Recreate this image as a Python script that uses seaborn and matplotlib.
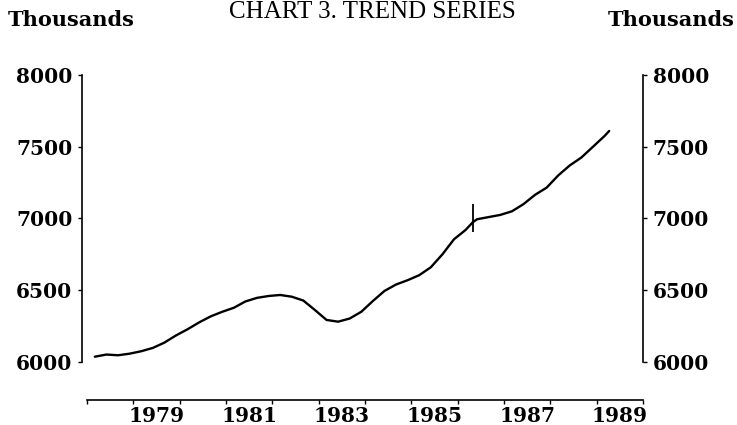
import numpy as np
import pandas as pd
import matplotlib.pyplot as plt
import seaborn as sns

# Trend series (decimal years, thousands)
years = [1978.17, 1978.42, 1978.67, 1978.92, 1979.17, 1979.42, 1979.67, 1979.92,
         1980.17, 1980.42, 1980.67, 1980.92, 1981.17, 1981.42, 1981.67, 1981.92,
         1982.17, 1982.42, 1982.67, 1982.92, 1983.17, 1983.42, 1983.67, 1983.92,
         1984.17, 1984.42, 1984.67, 1984.92, 1985.17, 1985.42, 1985.67, 1985.92,
         1986.17, 1986.33, 1986.42, 1986.67, 1986.92, 1987.17, 1987.42, 1987.67,
         1987.92, 1988.17, 1988.42, 1988.67, 1988.92, 1989.17, 1989.27]
trend = [6037, 6052, 6047, 6058, 6075, 6098, 6135, 6185,
         6228, 6276, 6318, 6350, 6378, 6422, 6447, 6460,
         6467, 6455, 6428, 6362, 6293, 6281, 6303, 6350,
         6425, 6495, 6540, 6570, 6605, 6660, 6750, 6855,
         6920, 6975, 6995, 7010, 7025, 7050, 7100, 7165,
         7215, 7300, 7370, 7425, 7500, 7575, 7610]

# series break marker
break_year = 1986.33
break_lo = 6905
break_hi = 7100

y_ticks = [6000, 6500, 7000, 7500, 8000]
year_ticks = list(range(1978, 1991))
label_years = [1979, 1981, 1983, 1985, 1987, 1989]

df = pd.DataFrame({"year": years, "trend": trend})

sns.set_style("white")
plt.rcParams["font.family"] = ["DejaVu Serif"]
plt.rcParams["text.color"] = "black"

fig = plt.figure(figsize=(7.37, 4.25), dpi=100)
ax = fig.add_axes([82 / 737, 1 - 362 / 425, 561 / 737, 287 / 425])

sns.lineplot(data=df, x="year", y="trend", ax=ax, color="black", linewidth=1.7)
ax.vlines(break_year, break_lo, break_hi, color="black", linewidth=1.3)

ax.set_xlim(1978 - 5 / 46.33, 1990)
ax.set_ylim(6000, 8000)
ax.set_xlabel("")
ax.set_ylabel("")

for side in ["left", "right", "bottom"]:
    ax.spines[side].set_visible(True)
    ax.spines[side].set_color("black")
    ax.spines[side].set_linewidth(1.2)
ax.spines["top"].set_visible(False)
ax.spines["bottom"].set_position(("outward", 27.4))
ax.spines["bottom"].set_bounds(1978, 1990)

ax.set_yticks(y_ticks)
ax.set_yticklabels([str(v) for v in y_ticks], fontsize=14.5, fontweight="bold")
ax.tick_params(axis="y", left=True, right=True, labelleft=True, labelright=True,
               direction="out", length=3, width=1, pad=4, colors="black")

ax.set_xticks(year_ticks)
ax.set_xticklabels([])
ax.set_xticks([y + 0.5 for y in label_years], minor=True)
ax.set_xticklabels([str(y) for y in label_years], minor=True, fontsize=14.5, fontweight="bold")
ax.tick_params(axis="x", which="major", direction="out", length=3, width=1, bottom=True, colors="black")
ax.tick_params(axis="x", which="minor", length=0, pad=4, bottom=True, colors="black")

fig.text(8 / 737, 1 - 20 / 425, "Thousands", fontsize=15, fontweight="bold", va="center", ha="left")
fig.text(735 / 737, 1 - 20 / 425, "Thousands", fontsize=15, fontweight="bold", va="center", ha="right")
fig.text(372 / 737, 1 - 1 / 425, "CHART 3. TREND SERIES", fontsize=18,
         family=["Liberation Serif"], va="top", ha="center")

fig.savefig("out.png", dpi=100, facecolor="white")
